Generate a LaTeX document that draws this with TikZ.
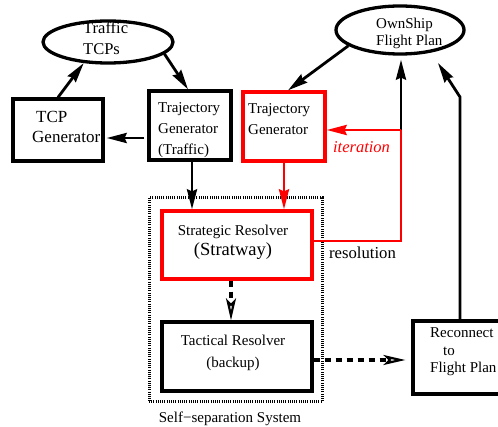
\documentclass[tikz,border=0pt]{standalone}
\usepackage{fontspec}
\setmainfont{Liberation Serif}
\usetikzlibrary{shapes.geometric,arrows.meta,calc}
\newcommand\fsz[2]{\fontsize{#1}{#2}\selectfont}
\begin{document}
\begin{tikzpicture}[x=1pt,y=-1pt,
  box/.style={draw, line width=3.3pt, inner sep=0pt},
  redbox/.style={box, draw=red},
  ell/.style={ellipse, draw, line width=3.3pt, inner sep=0pt},
  txt/.style={inner sep=0pt, align=left},
  arr/.style={line width=2.8pt, -{Stealth[length=20pt,width=10pt,inset=2pt]}},
  redarr/.style={arr, draw=red, fill=red},
  redline/.style={line width=2.8pt, draw=red},
  darr/.style={line width=3.3pt, dash pattern=on 6.5pt off 4.5pt, -{Stealth[open,length=22pt,width=10pt,inset=5pt,line width=2.2pt]}},
  frame/.style={draw, line width=3pt, dash pattern=on 1pt off 1.2pt}
]
\useasboundingbox (0,0) rectangle (498,427);
\clip (0,0) rectangle (498,427);

% ellipses
\node[ell, minimum width=130pt, minimum height=42pt] (tcps) at (108,42) {};
\node[txt, anchor=west, font=\fsz{16.5}{21}] (tcpst) at (83,38.5) {Traffic\\TCPs};
\node[ell, minimum width=128pt, minimum height=48pt] (ownship) at (400,30) {};
\node[txt, anchor=west, font=\fsz{15}{17}] (ownshipt) at (376,33.5) {OwnShip\\Flight Plan};

% boxes
\node[box, minimum width=90pt, minimum height=62pt] (tcpgen) at (58,130) {};
\node[txt, anchor=west, font=\fsz{17}{20}] (tcpgent) at (32,127) {\hspace*{4pt}TCP\\Generator};

\node[box, minimum width=82pt, minimum height=69pt] (trajT) at (190,125.5) {};
\node[txt, anchor=west, font=\fsz{15}{21}] (trajTt) at (158,130) {Trajectory\\Generator\\(Traffic)};

\node[redbox, minimum width=82pt, minimum height=69pt] (trajO) at (284,126.5) {};
\node[txt, anchor=west, font=\fsz{15}{21}] (trajOt) at (248,119.5) {Trajectory\\Generator};

\node[frame, minimum width=173pt, minimum height=204pt, inner sep=0pt] (sss) at (235.5,300) {};
\node[inner sep=0pt, font=\fsz{15}{18}] (ssst) at (230,419) {Self−separation System};

\node[redbox, minimum width=150pt, minimum height=68pt] (strat) at (237,245) {};
\node[inner sep=0pt, align=center, font=\fsz{15}{20}] (stratt) at (233,242) {Strategic Resolver\\{\fsz{18.5}{21}(Stratway)}};

\node[box, minimum width=150pt, minimum height=69pt] (tact) at (237,356.5) {};
\node[inner sep=0pt, align=center, font=\fsz{15}{22}] (tactt) at (233,353) {Tactical Resolver\\(backup)};

\node[box, minimum width=95pt, minimum height=73pt] (reconn) at (460.5,357.5) {};
\node[txt, anchor=west, font=\fsz{15}{17.5}] (reconnt) at (430,352) {Reconnect\\\hspace*{13pt}to\\Flight Plan};

% labels
\node[inner sep=0pt, text=red, font=\fsz{16.5}{18}\itshape] (iter) at (361.5,147) {iteration};
\node[inner sep=0pt, font=\fsz{16.7}{18}] (resol) at (362.5,253) {resolution};

% helper coordinates
\coordinate (j1) at (401,130);
\coordinate (j2) at (401,241);
\coordinate (k1) at (460,97);
\coordinate (fpin) at (438,63);
\coordinate (a1) at ($(trajT.west)+(-3,12.5)$);
\coordinate (a2) at ($(trajT.south)+(2,0)$);
\coordinate (a3) at ($(trajO.north)+(4,0)$);
\coordinate (d0) at ($(strat.south)+(-6,0)$);
\coordinate (d1) at ($(tact.east)+(0,3.5)$);

% connectors
\draw[arr] (tcpgen.north) -- (tcps.221);
\draw[arr] (tcps.348) -- ($(trajT.north)+(-2,0)$);
\draw[arr, shorten >=2pt] (a1) -- (a1 -| tcpgen.east);
\draw[arr] (a2) -- (a2 |- strat.north);
\draw[arr] (ownship.197) -- (a3);
\draw[arr, shorten >=4pt] (j1) -- (j1 |- ownship.south);
\draw[redarr] (j1) -- (j1 -| trajO.east);
\draw[redline] (strat.east |- j2) -- (j2) -- (j1);
\draw[redarr] (trajO.south) -- (trajO.south |- strat.north);
\draw[darr] (d0) -- (d0 |- tact.north);
\draw[darr, shorten >=6pt] (d1) -- (d1 -| reconn.west);
\draw[arr] (reconn.north -| k1) -- (k1) -- (fpin);
\end{tikzpicture}
\end{document}
